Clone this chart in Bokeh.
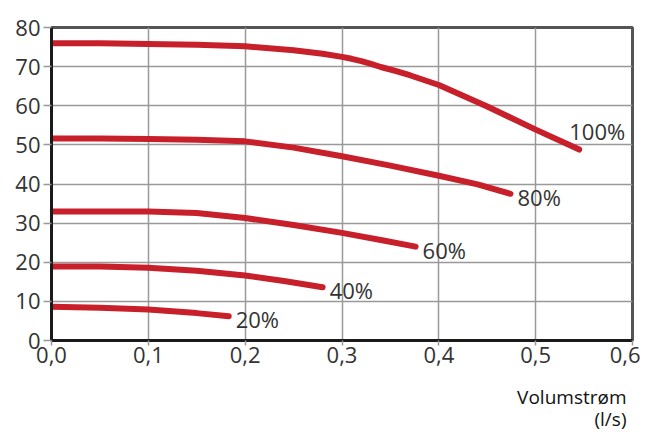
from bokeh.plotting import figure
from bokeh.models import FixedTicker, CustomJSTickFormatter, Title, Range1d
from bokeh.core.properties import value
from bokeh.embed import file_html
from bokeh.resources import INLINE

FONT = "Open Sans"
TEXT_COLOR = "#333333"
CURVE_COLOR = "#c8202b"

x_ticks = [0.0, 0.1, 0.2, 0.3, 0.4, 0.5, 0.6]
y_ticks = [0, 10, 20, 30, 40, 50, 60, 70, 80]
x_title_lines = ["Volumstrøm", "(l/s)"]

flow_100 = [0.0, 0.05, 0.1, 0.15, 0.2, 0.25, 0.28, 0.3, 0.31, 0.32, 0.33, 0.34, 0.355, 0.37, 0.4, 0.45, 0.5, 0.545]
press_100 = [76.0, 75.95, 75.8, 75.6, 75.2, 74.2, 73.3, 72.5, 72.0, 71.4, 70.7, 69.9, 68.9, 67.8, 65.3, 59.8, 53.9, 48.8]

flow_80 = [0.0, 0.05, 0.1, 0.15, 0.2, 0.25, 0.3, 0.35, 0.4, 0.44, 0.474]
press_80 = [51.6, 51.6, 51.5, 51.3, 50.9, 49.3, 47.1, 44.7, 42.1, 39.9, 37.5]

flow_60 = [0.0, 0.05, 0.1, 0.15, 0.2, 0.25, 0.3, 0.34, 0.376]
press_60 = [33.0, 33.0, 33.0, 32.6, 31.3, 29.5, 27.5, 25.7, 24.0]

flow_40 = [0.0, 0.05, 0.1, 0.15, 0.2, 0.24, 0.28]
press_40 = [18.9, 18.9, 18.6, 17.8, 16.6, 15.2, 13.6]

flow_20 = [0.0, 0.05, 0.1, 0.15, 0.183]
press_20 = [8.6, 8.4, 7.9, 7.0, 6.2]

series = [
    (flow_100, press_100, "100%"),
    (flow_80, press_80, "80%"),
    (flow_60, press_60, "60%"),
    (flow_40, press_40, "40%"),
    (flow_20, press_20, "20%"),
]

p = figure(frame_width=581, frame_height=313, output_backend="svg", toolbar_location=None,
           x_range=Range1d(0, 0.6), y_range=Range1d(0, 80),
           min_border_left=51, min_border_right=8, min_border_top=27, min_border_bottom=92)

p.background_fill_color = "white"
p.border_fill_color = "white"
p.outline_line_color = "#555555"
p.outline_line_width = 3

for xs, ys, lab in series:
    p.line(xs, ys, line_color=CURVE_COLOR, line_width=6, line_cap="round", line_join="round")
    if lab == "100%":
        p.text([xs[-1]], [ys[-1]], text=[lab], x_offset=-10, y_offset=-4,
               text_font=value(FONT), text_font_size="22px", text_color=TEXT_COLOR,
               text_align="left", text_baseline="bottom")
    else:
        p.text([xs[-1]], [ys[-1]], text=[lab], x_offset=7, y_offset=3,
               text_font=value(FONT), text_font_size="22px", text_color=TEXT_COLOR,
               text_align="left", text_baseline="middle")

p.xaxis.ticker = FixedTicker(ticks=x_ticks)
p.yaxis.ticker = FixedTicker(ticks=y_ticks)
p.xaxis.formatter = CustomJSTickFormatter(code="return tick.toFixed(1).replace('.', ',');")

for ax in (p.xaxis, p.yaxis):
    ax.axis_line_color = "#1a1a1a"
    ax.axis_line_width = 3
    ax.major_tick_line_color = "#999999"
    ax.major_tick_line_width = 1.5
    ax.major_tick_in = 0
    ax.minor_tick_line_color = None
    ax.major_label_text_font = FONT
    ax.major_label_text_font_size = "22px"
    ax.major_label_text_color = TEXT_COLOR

p.yaxis.major_tick_out = 8
p.yaxis.major_label_standoff = 3
p.xaxis.major_tick_out = 5
p.xaxis.major_label_standoff = 1
# blank spacer label to push the titles down a little
p.xaxis.axis_label = " "
p.xaxis.axis_label_text_font_size = "8px"
p.xaxis.axis_label_standoff = 0

p.xgrid.grid_line_color = "#999999"
p.ygrid.grid_line_color = "#999999"
p.xgrid.grid_line_width = 1.5
p.ygrid.grid_line_width = 1.5

standoffs = [8, -19]
for line, so in zip(x_title_lines, standoffs):
    p.add_layout(Title(text=line, align="right", text_font=FONT, text_font_size="19px",
                       text_font_style="normal", text_color="#111111",
                       standoff=so, offset=6), "below")

open("out.html", "w").write(file_html(p, INLINE))
